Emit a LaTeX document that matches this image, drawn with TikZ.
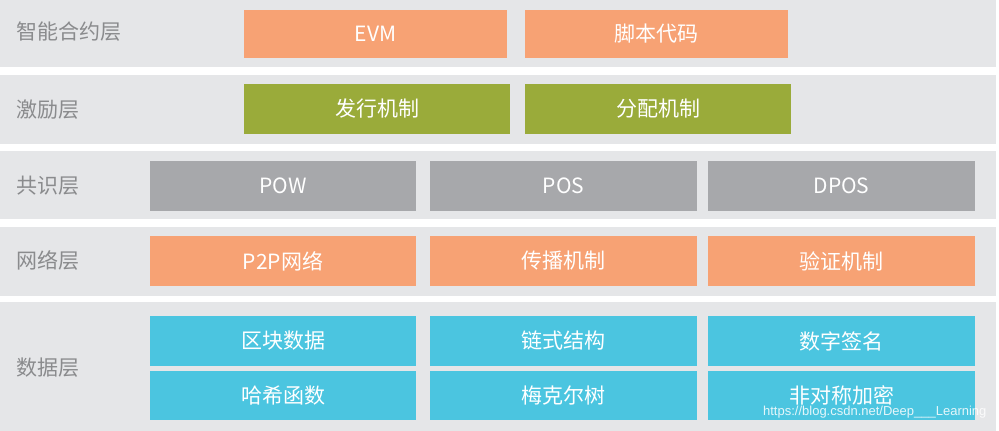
\documentclass[tikz,border=0pt]{standalone}
\usepackage{fontspec}
\setmainfont{Noto Sans CJK SC}[Scale=1]
\definecolor{band}{HTML}{E5E6E8}
\definecolor{org}{HTML}{F7A274}
\definecolor{grn}{HTML}{9AAB3A}
\definecolor{gry}{HTML}{A7A8AB}
\definecolor{blu}{HTML}{4BC5E0}
\definecolor{lbl}{HTML}{8A8B8D}
\tikzset{
 bandbox/.style={fill=band,draw=none},
 lab/.style={anchor=west,text=lbl,font=\fontsize{21}{21}\selectfont},
 boxtext/.style={text=white,font=\fontsize{21}{21}\selectfont},
}
\newcommand{\bx}[6]{\fill[#1] (#2,#3) rectangle (#4,#5); \node[boxtext] (n#2#3) at ({(#2+#4)/2},{(#3+#5)/2}) {#6};}
\begin{document}
\begin{tikzpicture}[x=1pt,y=-1pt]
\useasboundingbox (0,0) rectangle (999,431);
\fill[white] (0,0) rectangle (999,431);
\fill[bandbox] (0,0) rectangle (996,67);
\fill[bandbox] (0,75) rectangle (996,144);
\fill[bandbox] (0,151) rectangle (996,219);
\fill[bandbox] (0,227) rectangle (996,296);
\fill[bandbox] (0,302) rectangle (996,431);
\node[lab] (l1) at (13,32) {智能合约层};
\node[lab] (l2) at (13,110) {激励层};
\node[lab] (l3) at (13,186) {共识层};
\node[lab] (l4) at (13,260) {网络层};
\node[lab] (l5) at (13,368) {数据层};
\bx{org}{244}{10}{507}{58}{EVM}
\bx{org}{525}{10}{788}{58}{脚本代码}
\bx{grn}{244}{84}{510}{134}{发行机制}
\bx{grn}{525}{84}{791}{134}{分配机制}
\bx{gry}{150}{161}{416}{211}{POW}
\bx{gry}{430}{161}{697}{211}{POS}
\bx{gry}{708}{161}{975}{211}{DPOS}
\bx{org}{150}{236}{416}{286}{P2P网络}
\bx{org}{430}{236}{697}{286}{传播机制}
\bx{org}{708}{236}{975}{286}{验证机制}
\bx{blu}{150}{316}{416}{366}{区块数据}
\bx{blu}{430}{316}{697}{366}{链式结构}
\bx{blu}{708}{316}{975}{366}{数字签名}
\bx{blu}{150}{371}{416}{420}{哈希函数}
\bx{blu}{430}{371}{697}{420}{梅克尔树}
\bx{blu}{708}{371}{975}{420}{非对称加密}
\node[anchor=east,text=white,opacity=0.85,font=\fontfamily{}\selectfont] (wm) at (990,412) {\fontspec{Liberation Sans}\fontsize{13}{13}\selectfont https://blog.csdn.net/Deep\_\_\_Learning};
\end{tikzpicture}
\end{document}
